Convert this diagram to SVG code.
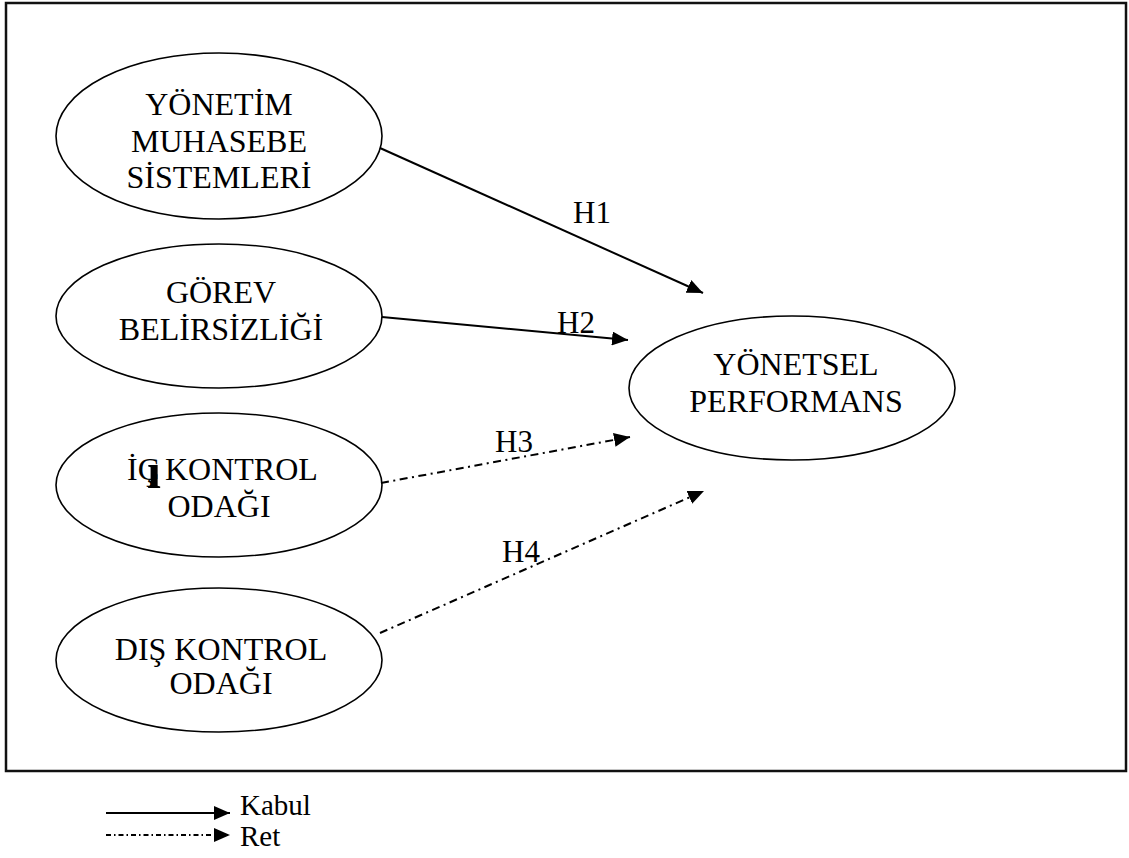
<svg xmlns="http://www.w3.org/2000/svg" width="1129" height="858" viewBox="0 0 1129 858">
  <style>
    .node ellipse { fill: #fff; stroke: #000; stroke-width: 1.6; }
    .lbl { font-family: "Liberation Serif", "Times New Roman", serif; font-size: 32px; fill: #000; text-anchor: middle; }
    .hl { font-family: "Liberation Serif", "Times New Roman", serif; font-size: 31px; fill: #000; }
    .leg { font-family: "Liberation Serif", "Times New Roman", serif; font-size: 29px; fill: #000; }
    .solid { stroke: #000; stroke-width: 2; fill: none; }
    .dashdot { stroke: #000; stroke-width: 2; fill: none; stroke-dasharray: 8 4.5 2 4.5; }
    .dashdot-leg { stroke: #000; stroke-width: 2; fill: none; stroke-dasharray: 5 3 1.5 3; }
  </style>
  <defs>
    <marker id="arr" viewBox="0 0 16 14" refX="16" refY="7" markerWidth="16" markerHeight="14" markerUnits="userSpaceOnUse" orient="auto">
      <path d="M0,0 L16,7 L0,14 z" fill="#000"/>
    </marker>
  </defs>
  <rect x="0" y="0" width="1129" height="858" fill="#fff"/>
  <rect id="frame" x="6" y="3" width="1120" height="768" fill="none" stroke="#111" stroke-width="2.5"/>

  <g id="n1" class="node">
    <ellipse cx="219" cy="136" rx="163" ry="83"/>
    <text class="lbl" x="219" y="115">YÖNETİM</text>
    <text class="lbl" x="219" y="152">MUHASEBE</text>
    <text class="lbl" x="219" y="188">SİSTEMLERİ</text>
  </g>
  <g id="n2" class="node">
    <ellipse cx="219" cy="316" rx="163" ry="72"/>
    <text class="lbl" x="221" y="303">GÖREV</text>
    <text class="lbl" x="221" y="340">BELİRSİZLİĞİ</text>
  </g>
  <g id="n3" class="node">
    <ellipse cx="219" cy="485" rx="163" ry="72"/>
    <text class="lbl" x="127" y="480" style="text-anchor:start">İÇ<tspan font-weight="bold" font-size="50" dx="-12" dy="8">ı</tspan><tspan dx="-4" dy="-8"> KONTROL</tspan></text>
    <text class="lbl" x="219" y="517">ODAĞI</text>
  </g>
  <g id="n4" class="node">
    <ellipse cx="219" cy="660" rx="163" ry="72"/>
    <text class="lbl" x="221" y="660">DIŞ KONTROL</text>
    <text class="lbl" x="221" y="694">ODAĞI</text>
  </g>
  <g id="n5" class="node">
    <ellipse cx="792" cy="388" rx="163" ry="72"/>
    <text class="lbl" x="796" y="375">YÖNETSEL</text>
    <text class="lbl" x="796" y="412">PERFORMANS</text>
  </g>

  <g id="connectors">
    <line class="solid" x1="380" y1="148" x2="703" y2="293" marker-end="url(#arr)"/>
    <line class="solid" x1="382" y1="317" x2="628" y2="340" marker-end="url(#arr)"/>
    <line class="dashdot" x1="381" y1="483" x2="630" y2="437" marker-end="url(#arr)"/>
    <line class="dashdot" x1="380" y1="633" x2="704" y2="491" marker-end="url(#arr)"/>
    <text class="hl" x="573" y="223">H1</text>
    <text class="hl" x="557" y="333">H2</text>
    <text class="hl" x="495" y="452">H3</text>
    <text class="hl" x="502" y="562">H4</text>
  </g>

  <g id="legend">
    <line class="solid" x1="106" y1="813" x2="230" y2="813" marker-end="url(#arr)"/>
    <line class="dashdot-leg" x1="106" y1="835" x2="230" y2="835" marker-end="url(#arr)"/>
    <text class="leg" x="240" y="815">Kabul</text>
    <text class="leg" x="240" y="846">Ret</text>
  </g>
</svg>
